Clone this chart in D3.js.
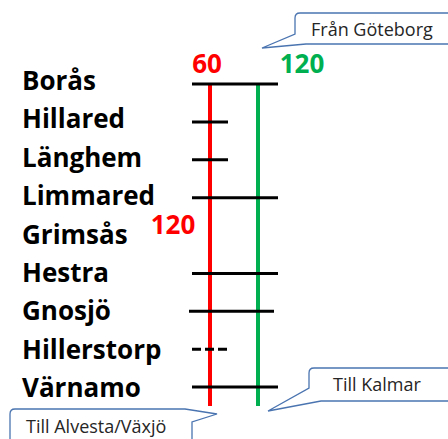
<!DOCTYPE html>
<html>
<head>
<meta charset="utf-8">
<script src="https://cdn.jsdelivr.net/npm/d3@7"></script>
<style>
  body { margin: 0; background: #fff; }
  svg { display: block; }
</style>
</head>
<body>
<svg id="chart" width="448" height="439"></svg>
<script>
// stations, top to bottom
const stations = ['Borås', 'Hillared', 'Länghem', 'Limmared', 'Grimsås', 'Hestra', 'Gnosjö', 'Hillerstorp', 'Värnamo'];
// what kind of station mark each one gets
const stopTypes = ['full', 'short', 'short', 'full', 'none', 'full', 'full', 'dashed', 'full'];
// the two lines and their colours
const tracks = ['red', 'green'];
const trackColors = ['#ff0000', '#00b050'];
// speed labels: which track, the text, and where it sits
const speedTracks = ['red', 'green', 'red'];
const speedTexts = ['60', '120', '120'];
const speedPlaces = ['top', 'top', 'Grimsås'];
// callouts
const calloutTexts = ['Från Göteborg', 'Till Kalmar', 'Till Alvesta/Växjö'];

const svg = d3.select('#chart');

const y = d3.scalePoint().domain(stations).range([84, 387]);
// the names are spaced a bit wider than the marks
const yLabel = d3.scalePoint().domain(stations).range([90, 397]);
const x = d3.scalePoint().domain(tracks).range([210, 258]);
const color = d3.scaleOrdinal().domain(tracks).range(trackColors);

// station names
svg.append('g').selectAll('text')
  .data(stations)
  .enter().append('text')
  .attr('x', 22)
  .attr('y', d => yLabel(d))
  .style('font-family', '"Open Sans", sans-serif')
  .style('font-weight', 'bold')
  .style('font-size', '26px')
  .style('fill', '#000')
  .text(d => d);

// track lines
svg.append('g').selectAll('line')
  .data(tracks)
  .enter().append('line')
  .attr('x1', d => x(d))
  .attr('x2', d => x(d))
  .attr('y1', y(stations[0]))
  .attr('y2', y(stations[stations.length - 1]) + 19)
  .attr('stroke', d => color(d))
  .attr('stroke-width', 4);

// station marks
const marks = stations.map((s, i) => ({ name: s, type: stopTypes[i] })).filter(d => d.type !== 'none');
svg.append('g').selectAll('line')
  .data(marks)
  .enter().append('line')
  .attr('x1', d => x('red') - 18 - (d.name === 'Gnosjö' ? 3 : 0))
  .attr('x2', d => (d.type === 'full' ? x('green') + 20 : x('red') + 18) - (d.name === 'Gnosjö' ? 4 : 0))
  .attr('y1', d => y(d.name))
  .attr('y2', d => y(d.name))
  .attr('stroke', '#000')
  .attr('stroke-width', 3)
  .attr('stroke-dasharray', d => d.type === 'dashed' ? '9,4' : null);

// speed labels
const speeds = speedTexts.map((t, i) => ({ track: speedTracks[i], text: t, place: speedPlaces[i] }));
svg.append('g').selectAll('text')
  .data(speeds)
  .enter().append('text')
  .attr('x', d => d.place === 'top' ? x(d.track) + (d.track === 'red' ? -3 : 44) : x(d.track) - 37)
  .attr('y', d => d.place === 'top' ? y(stations[0]) - 11 : y(d.place) - 2)
  .attr('text-anchor', 'middle')
  .style('font-family', '"Open Sans", sans-serif')
  .style('font-weight', 'bold')
  .style('font-size', '26px')
  .style('fill', d => color(d.track))
  .text(d => d.text);

const callouts = [
  { text: calloutTexts[0], bx: 295, by: 13, w: 165, h: 31, tip: [262, 48], base1: [295, 34], base2: [306, 44], side: 'left', tx: 311, ty: 36 },
  { text: calloutTexts[1], bx: 309, by: 368, w: 150, h: 33, tip: [268, 411], base1: [309, 388], base2: [321, 401], side: 'left', tx: 333, ty: 391 },
  { text: calloutTexts[2], bx: 10, by: 409, w: 182, h: 40, tip: [217, 414], base1: [185, 409], base2: [192, 422], side: 'right', tx: 26, ty: 433 }
];

// rounded box with a pointer
function boxPath(c) {
  const r = 5, bx = c.bx, by = c.by, w = c.w, h = c.h;
  const p = d3.path();
  if (c.side === 'left') {
    p.moveTo(bx + r, by);
    p.lineTo(bx + w - r, by);
    p.quadraticCurveTo(bx + w, by, bx + w, by + r);
    p.lineTo(bx + w, by + h - r);
    p.quadraticCurveTo(bx + w, by + h, bx + w - r, by + h);
    p.lineTo(c.base2[0], c.base2[1]);
    p.lineTo(c.tip[0], c.tip[1]);
    p.lineTo(c.base1[0], c.base1[1]);
    p.lineTo(bx, by + r);
    p.quadraticCurveTo(bx, by, bx + r, by);
  } else {
    p.moveTo(bx + r, by);
    p.lineTo(c.base1[0], c.base1[1]);
    p.lineTo(c.tip[0], c.tip[1]);
    p.lineTo(c.base2[0], c.base2[1]);
    p.lineTo(bx + w, by + h - r);
    p.quadraticCurveTo(bx + w, by + h, bx + w - r, by + h);
    p.lineTo(bx + r, by + h);
    p.quadraticCurveTo(bx, by + h, bx, by + h - r);
    p.lineTo(bx, by + r);
    p.quadraticCurveTo(bx, by, bx + r, by);
  }
  p.closePath();
  return p.toString();
}

const cg = svg.append('g').selectAll('g')
  .data(callouts)
  .enter().append('g');

cg.append('path')
  .attr('d', boxPath)
  .attr('fill', '#fff')
  .attr('stroke', '#4a74b0')
  .attr('stroke-width', 1.3);

cg.append('text')
  .attr('x', d => d.tx)
  .attr('y', d => d.ty)
  .style('font-family', '"Open Sans", sans-serif')
  .style('font-size', '18px')
  .style('fill', '#262626')
  .text(d => d.text);
</script>
</body>
</html>
